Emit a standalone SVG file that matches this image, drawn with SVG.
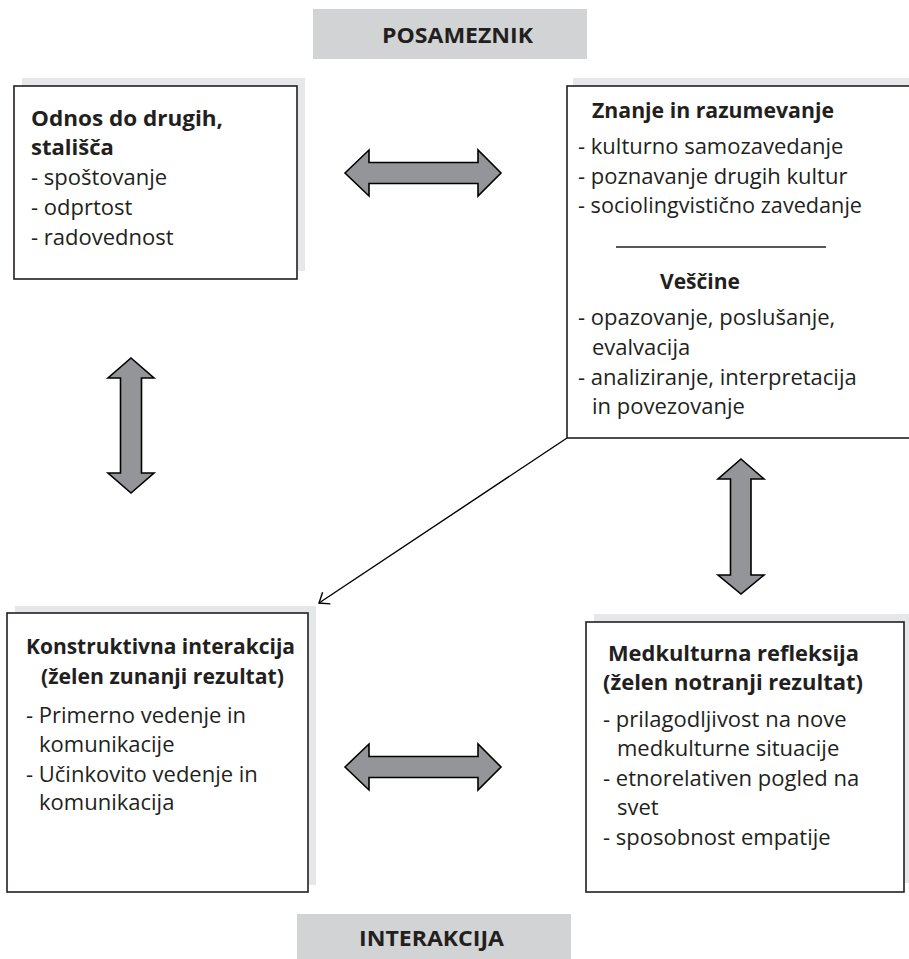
<svg xmlns="http://www.w3.org/2000/svg" width="909" height="959" viewBox="0 0 909 959">
<style>
text{font-family:"Open Sans","Noto Sans","Liberation Sans",sans-serif;font-size:22px;fill:#231f20}
.b{font-weight:bold}
.c{text-anchor:middle}
.box{fill:#fff;stroke:#231f20;stroke-width:1.6}
.sh{fill:#e6e7e8}
.lbl{fill:#d1d3d4}
.dbl{fill:#939598;stroke:#000;stroke-width:1.6;stroke-linejoin:miter}
.ln{stroke:#000;stroke-width:1.4;fill:none}
</style>
<defs>
<marker id="open" markerUnits="userSpaceOnUse" markerWidth="24" markerHeight="24" viewBox="-12 -12 24 24" refX="0" refY="0" orient="auto">
<path d="M-9,-7 L0,0 L-9,7" fill="none" stroke="#000" stroke-width="1.4"/>
</marker>
</defs>
<rect width="909" height="959" fill="#fff"/>

<g id="posameznik">
<rect class="lbl" x="313" y="9" width="274" height="50"/>
<text class="b" x="382" y="43" textLength="151" lengthAdjust="spacingAndGlyphs">POSAMEZNIK</text>
</g>

<g id="odnos">
<rect class="sh" x="22" y="78" width="283" height="193"/>
<rect class="box" x="14" y="86" width="283" height="193"/>
<text class="b" x="31" y="126" textLength="192" lengthAdjust="spacingAndGlyphs">Odnos do drugih,</text>
<text class="b" x="31" y="155">stališča</text>
<text x="31" y="185">- spoštovanje</text>
<text x="31" y="215">- odprtost</text>
<text x="31" y="245">- radovednost</text>
</g>

<g id="znanje">
<rect class="sh" x="573" y="78" width="345" height="352"/>
<rect class="box" x="567" y="86" width="350" height="352"/>
<text class="b" x="592" y="118" textLength="242" lengthAdjust="spacingAndGlyphs">Znanje in razumevanje</text>
<text x="578" y="154">- kulturno samozavedanje</text>
<text x="578" y="184">- poznavanje drugih kultur</text>
<text x="578" y="213" textLength="284" lengthAdjust="spacingAndGlyphs">- sociolingvistično zavedanje</text>
<line x1="616" y1="247" x2="826" y2="247" stroke="#231f20" stroke-width="1.4"/>
<text class="b" x="660" y="289" textLength="80" lengthAdjust="spacingAndGlyphs">Veščine</text>
<text x="578" y="325">- opazovanje, poslušanje,</text>
<text x="592" y="355">evalvacija</text>
<text x="578" y="385">- analiziranje, interpretacija</text>
<text x="592" y="414">in povezovanje</text>
</g>

<g id="konstruktivna">
<rect class="sh" x="15" y="606" width="301" height="279"/>
<rect class="box" x="7" y="613" width="301" height="279"/>
<text class="b" x="26" y="654" textLength="269" lengthAdjust="spacingAndGlyphs">Konstruktivna interakcija</text>
<text class="b" x="41" y="684" textLength="243" lengthAdjust="spacingAndGlyphs">(želen zunanji rezultat)</text>
<text x="26" y="723">- Primerno vedenje in</text>
<text x="39" y="752">komunikacije</text>
<text x="26" y="782">- Učinkovito vedenje in</text>
<text x="39" y="810">komunikacija</text>
</g>

<g id="medkulturna">
<rect class="sh" x="594" y="614" width="320" height="269"/>
<rect class="box" x="586" y="622" width="318" height="270"/>
<text class="b" x="608" y="661" textLength="251" lengthAdjust="spacingAndGlyphs">Medkulturna refleksija</text>
<text class="b" x="603" y="690" textLength="260" lengthAdjust="spacingAndGlyphs">(želen notranji rezultat)</text>
<text x="603" y="727">- prilagodljivost na nove</text>
<text x="617" y="756">medkulturne situacije</text>
<text x="603" y="786">- etnorelativen pogled na</text>
<text x="617" y="815">svet</text>
<text x="603" y="845">- sposobnost empatije</text>
</g>

<g id="interakcija">
<rect class="lbl" x="297" y="914" width="274" height="50"/>
<text class="b" x="359" y="946" textLength="145" lengthAdjust="spacingAndGlyphs">INTERAKCIJA</text>
</g>

<g id="connectors">
<polygon class="dbl" points="345,173 369,150 369,162.5 478,162.5 478,150 501,173 478,196 478,183.5 369,183.5 369,196"/>
<polygon class="dbl" points="345,767 369,744 369,756.5 478,756.5 478,744 501,767 478,790 478,777.5 369,777.5 369,790"/>
<polygon class="dbl" points="131,358 154,378 141.5,378 141.5,473 154,473 131,493 108,473 120.5,473 120.5,378 108,378"/>
<polygon class="dbl" points="741,459 764,479 751,479 751,575 764,575 741,594 718,575 730.5,575 730.5,479 718,479"/>
<line class="ln" x1="567" y1="438" x2="319" y2="603" marker-end="url(#open)"/>
</g>
</svg>
